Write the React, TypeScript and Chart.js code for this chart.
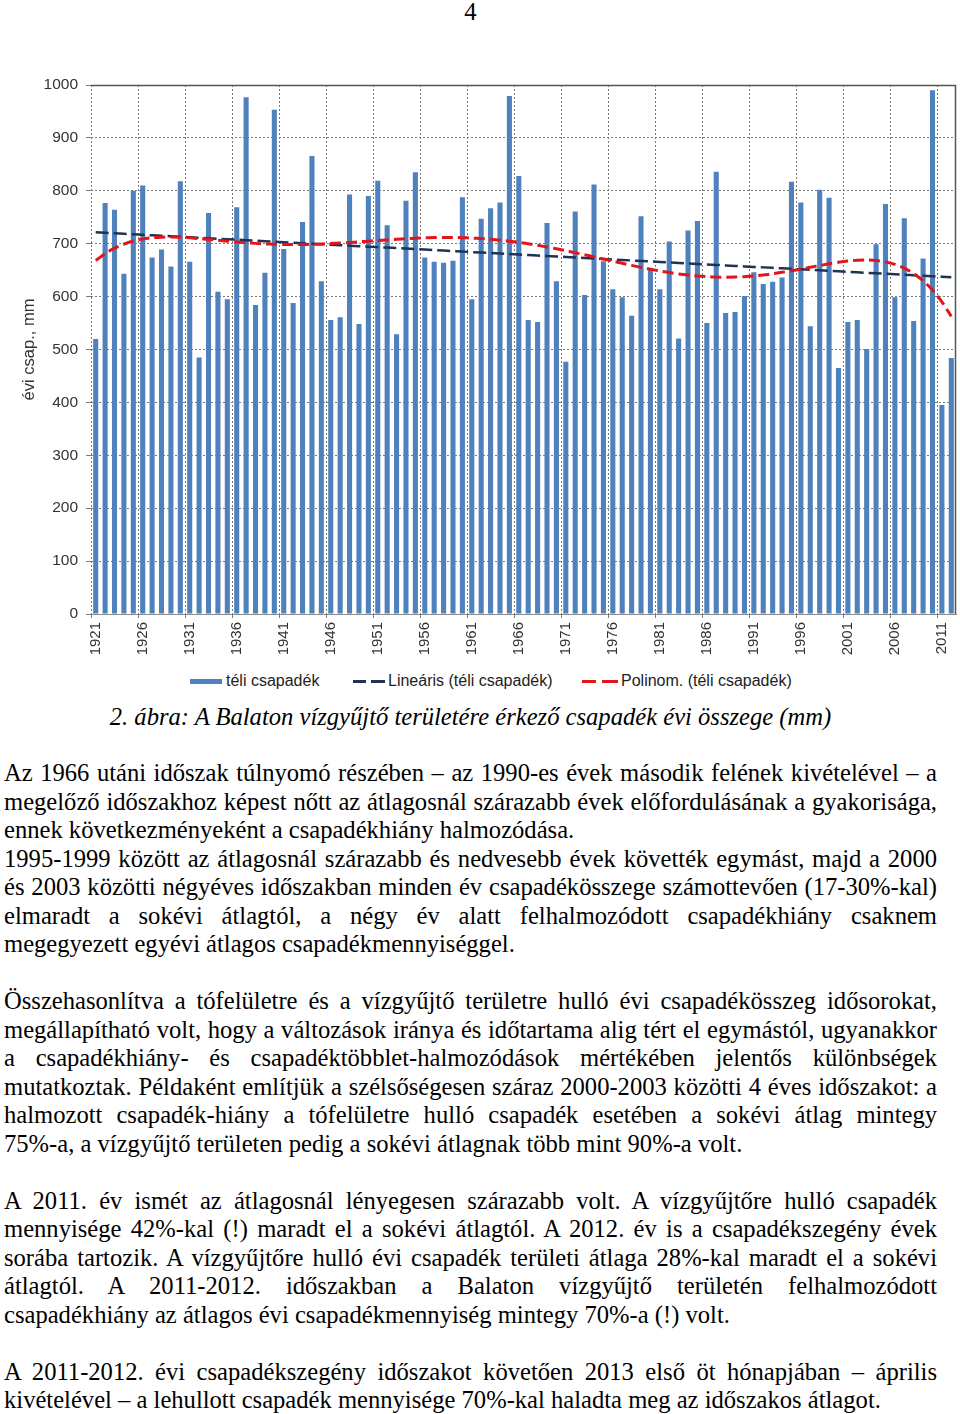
import React, { useEffect, useRef } from "react";
import { Chart, registerables } from "chart.js";

Chart.register(...registerables);

// ---------- DATA ----------
const YEARS: number[] = [
  1921, 1922, 1923, 1924, 1925, 1926, 1927, 1928, 1929, 1930,
  1931, 1932, 1933, 1934, 1935, 1936, 1937, 1938, 1939, 1940,
  1941, 1942, 1943, 1944, 1945, 1946, 1947, 1948, 1949, 1950,
  1951, 1952, 1953, 1954, 1955, 1956, 1957, 1958, 1959, 1960,
  1961, 1962, 1963, 1964, 1965, 1966, 1967, 1968, 1969, 1970,
  1971, 1972, 1973, 1974, 1975, 1976, 1977, 1978, 1979, 1980,
  1981, 1982, 1983, 1984, 1985, 1986, 1987, 1988, 1989, 1990,
  1991, 1992, 1993, 1994, 1995, 1996, 1997, 1998, 1999, 2000,
  2001, 2002, 2003, 2004, 2005, 2006, 2007, 2008, 2009, 2010,
  2011, 2012,
];

const WINTER_PRECIP: number[] = [
  520, 777, 764, 643, 800, 810, 674, 689, 657, 818,
  666, 485, 758, 609, 595, 769, 977, 584, 645, 953,
  690, 588, 741, 866, 629, 556, 561, 793, 548, 790,
  819, 735, 529, 781, 835, 674, 666, 664, 668, 788,
  595, 747, 767, 778, 979, 828, 556, 552, 739, 629,
  477, 761, 603, 812, 667, 614, 599, 564, 752, 654,
  614, 704, 521, 725, 743, 550, 836, 569, 571, 601,
  646, 624, 628, 636, 817, 778, 544, 802, 787, 465,
  552, 556, 501, 699, 775, 599, 748, 554, 672, 990,
  395, 484,
];

const Y_MIN = 0;
const Y_MAX = 1000;
const Y_STEP = 100;
const X_LABEL_EVERY = 5;
const POLY_ORDER = 6;

const SERIES_LABELS = ["téli csapadék", "Lineáris (téli csapadék)", "Polinom. (téli csapadék)"];
const Y_TITLE = "évi csap., mm";
const PAGE_NUMBER = "4";
const CAPTION = "2. ábra: A Balaton vízgyűjtő területére érkező csapadék évi összege (mm)";

// paragraphs: each entry is a list of lines; null = blank line
const TEXT_LINES: (string | null)[][] = [
  [
    "Az 1966 utáni időszak túlnyomó részében – az 1990-es évek második felének kivételével – a",
    "megelőző időszakhoz képest nőtt az átlagosnál szárazabb évek előfordulásának a gyakorisága,",
    "ennek következményeként a csapadékhiány halmozódása.",
  ],
  [
    "1995-1999 között az átlagosnál szárazabb és nedvesebb évek követték egymást, majd a 2000",
    "és 2003 közötti négyéves időszakban minden év csapadékösszege számottevően (17-30%-kal)",
    "elmaradt a sokévi átlagtól, a négy év alatt felhalmozódott csapadékhiány csaknem",
    "megegyezett egyévi átlagos csapadékmennyiséggel.",
  ],
  [null],
  [
    "Összehasonlítva a tófelületre és a vízgyűjtő területre hulló évi csapadékösszeg idősorokat,",
    "megállapítható volt, hogy a változások iránya és időtartama alig tért el egymástól, ugyanakkor",
    "a csapadékhiány- és csapadéktöbblet-halmozódások mértékében jelentős különbségek",
    "mutatkoztak. Példaként említjük a szélsőségesen száraz 2000-2003 közötti 4 éves időszakot: a",
    "halmozott csapadék-hiány a tófelületre hulló csapadék esetében a sokévi átlag mintegy",
    "75%-a, a vízgyűjtő területen pedig a sokévi átlagnak több mint 90%-a volt.",
  ],
  [null],
  [
    "A 2011. év ismét az átlagosnál lényegesen szárazabb volt. A vízgyűjtőre hulló csapadék",
    "mennyisége 42%-kal (!) maradt el a sokévi átlagtól. A 2012. év is a csapadékszegény évek",
    "sorába tartozik. A vízgyűjtőre hulló évi csapadék területi átlaga 28%-kal maradt el a sokévi",
    "átlagtól. A 2011-2012. időszakban a Balaton vízgyűjtő területén felhalmozódott",
    "csapadékhiány az átlagos évi csapadékmennyiség mintegy 70%-a (!) volt.",
  ],
  [null],
  [
    "A 2011-2012. évi csapadékszegény időszakot követően 2013 első öt hónapjában – április",
    "kivételével – a lehullott csapadék mennyisége 70%-kal haladta meg az időszakos átlagot.",
  ],
];

// ---------- least-squares trend (as Excel trendlines) ----------
function polyTrend(values: number[], order: number): number[] {
  const n = values.length;
  const mid = (n - 1) / 2;
  const ts = values.map((_, i) => (i - mid) / mid);
  const m = order + 1;
  const A: number[][] = [];
  const b: number[] = [];
  for (let j = 0; j < m; j++) {
    A.push(new Array(m).fill(0));
    b.push(0);
  }
  for (let i = 0; i < n; i++) {
    const pw: number[] = [1];
    for (let k = 1; k < 2 * m; k++) pw.push(pw[k - 1] * ts[i]);
    for (let j = 0; j < m; j++) {
      b[j] += values[i] * pw[j];
      for (let k = 0; k < m; k++) A[j][k] += pw[j + k];
    }
  }
  for (let c = 0; c < m; c++) {
    let p = c;
    for (let r = c + 1; r < m; r++) if (Math.abs(A[r][c]) > Math.abs(A[p][c])) p = r;
    [A[c], A[p]] = [A[p], A[c]];
    [b[c], b[p]] = [b[p], b[c]];
    for (let r = c + 1; r < m; r++) {
      const f = A[r][c] / A[c][c];
      for (let k = c; k < m; k++) A[r][k] -= f * A[c][k];
      b[r] -= f * b[c];
    }
  }
  const coef = new Array(m).fill(0);
  for (let r = m - 1; r >= 0; r--) {
    let s = b[r];
    for (let k = r + 1; k < m; k++) s -= A[r][k] * coef[k];
    coef[r] = s / A[r][r];
  }
  return ts.map((t) => {
    let v = 0;
    for (let k = m - 1; k >= 0; k--) v = v * t + coef[k];
    return v;
  });
}

const SANS = "'Liberation Sans', Arial, sans-serif";
const SERIF = "'Liberation Serif', 'Times New Roman', serif";
const GRID = "#7a7a7a";

// vertical dotted grid lines at category boundaries every 5 years (from the x scale)
const vGridPlugin = {
  id: "vgrid",
  beforeDatasetsDraw(chart: any) {
    const { ctx, chartArea, scales } = chart;
    const xs = scales.x;
    const n = YEARS.length;
    const half = (xs.getPixelForValue(1) - xs.getPixelForValue(0)) / 2;
    ctx.save();
    ctx.strokeStyle = GRID;
    ctx.lineWidth = 1;
    for (let i = 0; i < n; i += X_LABEL_EVERY) {
      const x = Math.round(xs.getPixelForValue(i) - half) + 0.5;
      ctx.setLineDash([2, 2]);
      ctx.beginPath();
      ctx.moveTo(x, chartArea.top);
      ctx.lineTo(x, chartArea.bottom);
      ctx.stroke();
      ctx.setLineDash([]);
      ctx.beginPath();
      ctx.moveTo(x, chartArea.bottom);
      ctx.lineTo(x, chartArea.bottom + 4);
      ctx.stroke();
    }
    ctx.restore();
  },
  afterDatasetsDraw(chart: any) {
    const { ctx, chartArea } = chart;
    const { left, right, top, bottom } = chartArea;
    ctx.save();
    ctx.strokeStyle = "#555";
    ctx.lineWidth = 1.5;
    ctx.beginPath();
    ctx.moveTo(left, top + 0.5);
    ctx.lineTo(right - 0.5, top + 0.5);
    ctx.lineTo(right - 0.5, bottom);
    ctx.stroke();
    ctx.restore();
  },
};

function PrecipChart() {
  const ref = useRef<HTMLCanvasElement | null>(null);
  useEffect(() => {
    if (!ref.current) return;
    const linear = polyTrend(WINTER_PRECIP, 1);
    const poly = polyTrend(WINTER_PRECIP, POLY_ORDER);
    const chart = new Chart(ref.current, {
      type: "bar",
      data: {
        labels: YEARS.map(String),
        datasets: [
          {
            type: "bar",
            label: SERIES_LABELS[0],
            data: WINTER_PRECIP,
            backgroundColor: "#4F81BD",
            categoryPercentage: 1,
            barPercentage: 0.54,
            order: 2,
          } as any,
          {
            type: "line",
            label: SERIES_LABELS[1],
            data: linear,
            borderColor: "#1F3353",
            borderWidth: 2.5,
            borderDash: [13, 5],
            pointRadius: 0,
            fill: false,
            order: 1,
          } as any,
          {
            type: "line",
            label: SERIES_LABELS[2],
            data: poly,
            borderColor: "#E3151B",
            borderWidth: 3,
            borderDash: [11, 5],
            pointRadius: 0,
            fill: false,
            tension: 0.3,
            order: 0,
          } as any,
        ],
      },
      options: {
        animation: false,
        responsive: false,
        maintainAspectRatio: false,
        layout: { padding: { top: 15, right: 4, left: 0, bottom: 0 } },
        plugins: { legend: { display: false }, tooltip: { enabled: false } },
        scales: {
          x: {
            type: "category",
            offset: true,
            grid: { display: false, drawTicks: false, tickLength: 4 },
            border: { display: true, color: "#8a8a8a" },
            ticks: {
              autoSkip: false,
              maxRotation: 90,
              minRotation: 90,
              padding: 8,
              color: "#333",
              font: { family: SANS, size: 15 },
              callback: (_v: any, i: number) => (i % X_LABEL_EVERY === 0 ? String(YEARS[i]) : null),
            },
            afterFit: (s: any) => {
              s.height = 56;
              s.paddingLeft = 0;
              s.paddingRight = 0;
            },
          },
          y: {
            min: Y_MIN,
            max: Y_MAX,
            ticks: {
              stepSize: Y_STEP,
              padding: 8,
              color: "#333",
              font: { family: SANS, size: 15.5 },
              callback: (v: any) => String(v),
            },
            grid: { color: GRID, tickLength: 5, lineWidth: 1 },
            border: { display: false, dash: [2, 2] },
            title: {
              display: true,
              text: Y_TITLE,
              color: "#333",
              font: { family: SANS, size: 16.5 },
              padding: { top: 20, bottom: 0 },
            },
            afterFit: (s: any) => {
              s.width = 91;
              s.paddingTop = 0;
              s.paddingBottom = 0;
            },
          },
        },
      } as any,
      plugins: [vGridPlugin],
    });
    return () => chart.destroy();
  }, []);
  return (
    <canvas
      ref={ref}
      width={960}
      height={600}
      style={{ position: "absolute", left: 0, top: 70, width: 960, height: 600 }}
    />
  );
}

function Legend() {
  const txt: React.CSSProperties = {
    position: "absolute",
    top: 671,
    lineHeight: "20px",
    fontFamily: SANS,
    fontSize: 16,
    color: "#222",
    whiteSpace: "nowrap",
  };
  const dash = (left: number, width: number, color: string): React.CSSProperties => ({
    position: "absolute",
    left,
    top: 680,
    width,
    height: 2.5,
    background: color,
  });
  return (
    <>
      <div style={{ position: "absolute", left: 190, top: 679, width: 32, height: 5, background: "#4F81BD" }} />
      <div style={{ ...txt, left: 226 }}>{SERIES_LABELS[0]}</div>
      <div style={dash(353, 13, "#1F3353")} />
      <div style={dash(371, 14, "#1F3353")} />
      <div style={{ ...txt, left: 388 }}>{SERIES_LABELS[1]}</div>
      <div style={dash(582, 14, "#E3151B")} />
      <div style={dash(602, 16, "#E3151B")} />
      <div style={{ ...txt, left: 621 }}>{SERIES_LABELS[2]}</div>
    </>
  );
}

function BodyText() {
  return (
    <div
      style={{
        position: "absolute",
        left: 4,
        top: 759,
        width: 933,
        fontFamily: SERIF,
        fontSize: 24.6,
        lineHeight: "28.5px",
        color: "#000",
      }}
    >
      {TEXT_LINES.map((para, pi) =>
        para.map((line, li) => {
          const isLast = li === para.length - 1;
          if (line === null) return <div key={pi + "-" + li} style={{ height: 28.5 }} />;
          return (
            <div
              key={pi + "-" + li}
              style={{
                textAlign: isLast ? "left" : "justify",
                textAlignLast: isLast ? "left" : "justify",
                whiteSpace: "normal",
              }}
            >
              {line}
            </div>
          );
        })
      )}
    </div>
  );
}

export default function App() {
  useEffect(() => {
    document.body.style.margin = "0";
  }, []);
  return (
    <div style={{ position: "relative", width: 960, height: 1414, background: "#fff", overflow: "hidden" }}>
      <div
        style={{
          position: "absolute",
          left: 0,
          width: 941,
          top: -2,
          textAlign: "center",
          fontFamily: SERIF,
          fontSize: 24.6,
          lineHeight: "28px",
        }}
      >
        {PAGE_NUMBER}
      </div>
      <PrecipChart />
      <Legend />
      <div
        style={{
          position: "absolute",
          left: 0,
          width: 941,
          top: 703,
          textAlign: "center",
          fontFamily: SERIF,
          fontStyle: "italic",
          fontSize: 24.6,
          lineHeight: "28px",
        }}
      >
        {CAPTION}
      </div>
      <BodyText />
    </div>
  );
}
